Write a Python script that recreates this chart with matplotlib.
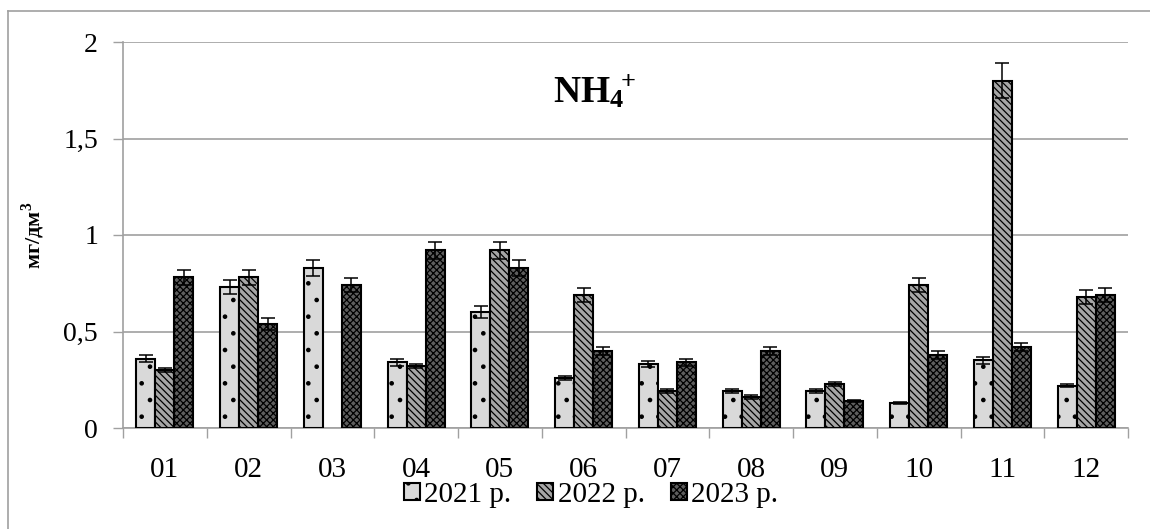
import matplotlib.pyplot as plt
import numpy as np
from matplotlib.lines import Line2D

plt.rcParams['font.family'] = ['Liberation Serif', 'DejaVu Serif']
plt.rcParams['mathtext.fontset'] = 'custom'
plt.rcParams['mathtext.rm'] = 'Liberation Serif'
plt.rcParams['mathtext.bf'] = 'Liberation Serif:bold'
plt.rcParams['hatch.linewidth'] = 0.9

months = ['01', '02', '03', '04', '05', '06', '07', '08', '09', '10', '11', '12']
years = ['2021 р.', '2022 р.', '2023 р.']

v2021 = [0.36, 0.73, 0.83, 0.34, 0.60, 0.26, 0.33, 0.19, 0.19, 0.13, 0.35, 0.22]
v2022 = [0.30, 0.78, 0.0, 0.32, 0.92, 0.69, 0.19, 0.16, 0.23, 0.74, 1.80, 0.68]
v2023 = [0.78, 0.54, 0.74, 0.92, 0.83, 0.40, 0.34, 0.40, 0.14, 0.38, 0.42, 0.69]

e2021 = [0.02, 0.035, 0.04, 0.02, 0.03, 0.01, 0.015, 0.01, 0.01, 0.005, 0.02, 0.01]
e2022 = [0.01, 0.04, 0.0, 0.01, 0.045, 0.035, 0.01, 0.01, 0.01, 0.035, 0.09, 0.035]
e2023 = [0.04, 0.03, 0.035, 0.045, 0.04, 0.02, 0.02, 0.02, 0.005, 0.02, 0.02, 0.035]

series = [v2021, v2022, v2023]
errors = [e2021, e2022, e2023]
faces = ['#d9d9d9', '#a6a6a6', '#5e5e5e']
hatches = ['.', '\\\\\\\\\\', 'xxxxx']

fig = plt.figure(figsize=(11.5, 5.29), dpi=100)
ax = fig.add_axes([123/1150, 1 - 428/529, (1128 - 123)/1150, (428 - 42)/529])

x = np.arange(len(months))
w = 0.227
handles = []
for i in range(3):
    pos = x + (i - 1) * w
    vals = np.array(series[i])
    errs = np.array(errors[i])
    show = vals > 0
    b = ax.bar(pos[show], vals[show], width=w, color=faces[i], edgecolor='black',
               linewidth=1.5, hatch=hatches[i], zorder=3, label=years[i])
    ax.errorbar(pos[show], vals[show], yerr=errs[show], fmt='none', ecolor='black',
                elinewidth=1.1, capsize=5, capthick=1.1, zorder=4)
    handles.append(b)

ax.set_xlim(-0.5, 11.5)
ax.set_ylim(0, 2)
ax.set_yticks([0, 0.5, 1, 1.5, 2])
ax.set_yticklabels(['0', '0,5', '1', '1,5', '2'], fontsize=20)
ax.set_xticks(x)
ax.set_xticklabels(months, fontsize=21)
ax.set_xticks(np.arange(-0.5, 12, 1), minor=True)
ax.tick_params(axis='x', which='major', length=0, pad=21)
ax.tick_params(axis='x', which='minor', length=7, color='#a0a0a0', width=1)
ax.tick_params(axis='y', length=7, color='#a0a0a0', width=1, pad=11)
ax.grid(axis='y', color='#a0a0a0', linewidth=1.2, zorder=0)
ax.set_axisbelow(True)
for s in ['top', 'right']:
    ax.spines[s].set_visible(False)
for s in ['left', 'bottom']:
    ax.spines[s].set_color('#a0a0a0')
    ax.spines[s].set_linewidth(1.2)

ax.set_ylabel('мг/дм$^\\mathbf{3}$', fontsize=16, fontweight='bold', labelpad=12)
ax.text(595/1150, 1 - 92/529, r'$\mathbf{NH_4{}^{\!\!+}}$', transform=fig.transFigure,
        ha='center', va='center', fontsize=27)

fig.legend(handles=handles, labels=years, loc='center', ncol=3,
           bbox_to_anchor=(591/1150, 1 - 495/529), frameon=False, fontsize=21,
           handlelength=0.55, handleheight=0.55, handletextpad=0.15, columnspacing=0.9)

# outer frame (left and top edges visible)
fig.add_artist(Line2D([8/1150, 8/1150], [0, 1 - 11/529], transform=fig.transFigure,
                      color='#a0a0a0', linewidth=1.2))
fig.add_artist(Line2D([8/1150, 1], [1 - 11/529, 1 - 11/529], transform=fig.transFigure,
                      color='#a0a0a0', linewidth=1.2))

fig.savefig('out.png', dpi=100)
